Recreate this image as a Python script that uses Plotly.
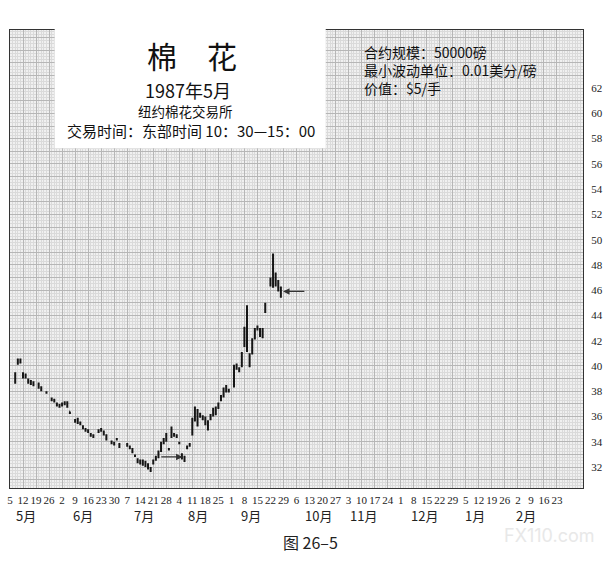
import pandas as pd
import plotly.graph_objects as go

# daily bars, cents per pound
dates = [
    "1986-05-07", "1986-05-08", "1986-05-09", "1986-05-12", "1986-05-13", "1986-05-14",
    "1986-05-15", "1986-05-16", "1986-05-20", "1986-05-21", "1986-05-23", "1986-05-27",
    "1986-05-28", "1986-05-29", "1986-05-30", "1986-06-02", "1986-06-03", "1986-06-04",
    "1986-06-05", "1986-06-09", "1986-06-10", "1986-06-11", "1986-06-12", "1986-06-13",
    "1986-06-16", "1986-06-17", "1986-06-18", "1986-06-20", "1986-06-23", "1986-06-24",
    "1986-06-25", "1986-06-27", "1986-06-30", "1986-07-01", "1986-07-02", "1986-07-07",
    "1986-07-08", "1986-07-09", "1986-07-10", "1986-07-11", "1986-07-14", "1986-07-15",
    "1986-07-16", "1986-07-17", "1986-07-18", "1986-07-21", "1986-07-22", "1986-07-23",
    "1986-07-24", "1986-07-25", "1986-07-28", "1986-07-29", "1986-07-30", "1986-07-31",
    "1986-08-01", "1986-08-04", "1986-08-05", "1986-08-06", "1986-08-07", "1986-08-08",
    "1986-08-11", "1986-08-12", "1986-08-13", "1986-08-14", "1986-08-15", "1986-08-18",
    "1986-08-19", "1986-08-20", "1986-08-21", "1986-08-22", "1986-08-25", "1986-08-26",
    "1986-08-27", "1986-08-28", "1986-08-29", "1986-09-02", "1986-09-03", "1986-09-04",
    "1986-09-05", "1986-09-08", "1986-09-09", "1986-09-10", "1986-09-11", "1986-09-12",
    "1986-09-15", "1986-09-16", "1986-09-17", "1986-09-18", "1986-09-22", "1986-09-23",
    "1986-09-24", "1986-09-25", "1986-09-26",
]
opens = [
    38.9, 40.2, 40.4, 39.4, 39.1, 38.9, 38.7, 38.5, 38.6, 38.3, 37.9, 37.4,
    37.3, 37.0, 36.8, 36.9, 37.0, 37.1, 36.4, 35.7, 35.6, 35.5, 35.2, 35.0,
    34.9, 34.6, 34.5, 34.8, 34.9, 34.8, 34.5, 34.0, 33.9, 34.2, 33.8, 33.8,
    33.6, 33.4, 32.9, 32.6, 32.5, 32.4, 32.3, 32.1, 31.9, 32.3, 32.6, 32.9,
    33.3, 33.9, 34.2, 33.4, 34.4, 34.6, 34.5, 33.9, 33.0, 32.6, 33.5, 33.7,
    34.6, 35.8, 36.4, 36.0, 36.0, 35.8, 35.4, 35.8, 36.1, 36.4, 36.8, 37.3,
    37.6, 38.1, 38.1, 38.4, 39.9, 39.8, 40.0, 41.6, 43.0, 40.8, 41.0, 42.2,
    43.0, 42.9, 42.4, 44.3, 46.4, 47.0, 46.6, 46.7, 46.2,
]
highs = [
    39.5, 40.6, 40.6, 39.5, 39.4, 39.0, 38.9, 38.8, 38.7, 38.4, 38.0, 37.5,
    37.4, 37.1, 37.0, 37.1, 37.2, 37.2, 36.4, 35.8, 35.9, 35.6, 35.3, 35.1,
    35.0, 34.7, 34.6, 35.0, 35.1, 34.9, 34.6, 34.1, 34.0, 34.3, 33.9, 33.9,
    33.7, 33.5, 33.0, 32.7, 32.6, 32.6, 32.5, 32.3, 32.0, 32.6, 32.9, 33.3,
    34.0, 34.3, 34.7, 33.5, 35.2, 34.7, 34.6, 34.0, 33.1, 32.9, 33.7, 33.9,
    35.9, 36.8, 36.6, 36.3, 36.1, 36.0, 35.7, 36.2, 36.7, 36.8, 37.1, 37.7,
    38.3, 38.5, 38.2, 40.1, 40.2, 39.9, 41.1, 43.1, 44.8, 41.0, 42.2, 43.0,
    43.2, 43.0, 43.0, 45.0, 47.0, 48.9, 47.4, 46.8, 46.3,
]
lows = [
    38.6, 40.1, 40.2, 39.0, 39.0, 38.6, 38.5, 38.4, 38.2, 38.0, 37.8, 37.2,
    37.1, 36.8, 36.7, 36.8, 36.9, 36.7, 36.2, 35.5, 35.4, 35.3, 35.0, 34.8,
    34.7, 34.4, 34.3, 34.7, 34.8, 34.5, 34.1, 33.8, 33.7, 34.1, 33.5, 33.6,
    33.4, 33.1, 32.8, 32.3, 32.2, 32.1, 32.0, 31.8, 31.6, 32.2, 32.5, 32.7,
    33.2, 33.8, 34.0, 33.3, 34.3, 34.4, 34.3, 33.8, 32.6, 32.4, 33.4, 33.6,
    34.5, 35.6, 35.2, 35.9, 35.7, 35.3, 34.9, 35.7, 36.0, 36.1, 36.6, 37.2,
    37.5, 37.9, 37.9, 38.3, 39.7, 39.5, 39.9, 41.5, 41.1, 39.9, 40.9, 42.1,
    42.8, 42.3, 42.2, 44.2, 46.3, 46.2, 46.3, 45.9, 45.4,
]
closes = [
    39.3, 40.5, 40.3, 39.1, 39.3, 38.7, 38.6, 38.7, 38.3, 38.1, 37.9, 37.3,
    37.2, 36.9, 36.9, 37.0, 37.1, 36.8, 36.3, 35.6, 35.7, 35.4, 35.1, 34.9,
    34.8, 34.5, 34.4, 34.9, 35.0, 34.6, 34.2, 33.9, 33.8, 34.2, 33.6, 33.7,
    33.5, 33.2, 32.9, 32.4, 32.3, 32.5, 32.1, 31.9, 31.8, 32.5, 32.8, 33.2,
    33.8, 34.1, 34.5, 33.4, 35.0, 34.5, 34.4, 33.9, 32.7, 32.8, 33.6, 33.8,
    35.6, 36.6, 35.5, 36.1, 35.8, 35.4, 35.1, 36.1, 36.5, 36.7, 37.0, 37.6,
    38.1, 38.4, 38.0, 39.9, 40.0, 39.6, 40.9, 42.8, 41.3, 40.2, 42.0, 42.8,
    43.1, 42.5, 42.7, 44.9, 46.8, 46.5, 47.2, 46.0, 45.6,
]

week_labels = [
    "5", "12", "19", "26", "2", "9", "16", "23", "30", "7", "14", "21", "28",
    "4", "11", "18", "25", "1", "8", "15", "22", "29", "6", "13", "20", "27",
    "3", "10", "17", "24", "1", "8", "15", "22", "29", "5", "12", "19", "26",
    "2", "9", "16", "23",
]
months = ["5月", "6月", "7月", "8月", "9月", "10月", "11月", "12月", "1月", "2月"]
month_pos = [
    "1986-05-13", "1986-06-12", "1986-07-15 12:00", "1986-08-13", "1986-09-10 12:00",
    "1986-10-16 12:00", "1986-11-10 18:00", "1986-12-12", "1987-01-08 12:00", "1987-02-05",
]
price_ticks = list(range(31, 67))
price_labels = [str(v) if v % 2 == 0 and 32 <= v <= 62 else "" for v in price_ticks]
spec_lines = ["合约规模：50000磅", "最小波动单位：0.01美分/磅", "价值：$5/手"]

mondays = pd.date_range("1986-05-05", "1987-02-23", freq="7D")

CJK = "Noto Sans CJK SC"
SERIF = "Liberation Serif"

fig = go.Figure()
fig.add_trace(
    go.Ohlc(
        x=dates, open=opens, high=highs, low=lows, close=closes,
        increasing_line_color="#151515", decreasing_line_color="#151515",
        line_width=2, tickwidth=0.25, showlegend=False, hoverinfo="skip",
    )
)

# white title panel
fig.add_shape(type="rect", xref="paper", yref="paper", x0=0.078, x1=0.551,
              y0=0.742, y1=1.02, fillcolor="white", line_width=0, layer="above")

texts = [
    ("棉　花", 0.318, 0.946, 30),
    ("1987年5月", 0.311, 0.869, 18),
    ("纽约棉花交易所", 0.306, 0.8235, 13.5),
    ("交易时间：东部时间 10：30—15：00", 0.316, 0.781, 15),
]
for t, x, y, s in texts:
    fig.add_annotation(text=t, x=x, y=y, xref="paper", yref="paper", showarrow=False,
                       xanchor="center", yanchor="middle",
                       font=dict(family=CJK, size=s, color="#111"))

fig.add_annotation(text="<br>".join(spec_lines), x=0.614, y=0.912, xref="paper",
                   yref="paper", xanchor="left", yanchor="middle", align="left",
                   showarrow=False, font=dict(family=CJK, size=14, color="#111"))

# month names under the week numbers
for m, d in zip(months, month_pos):
    fig.add_annotation(text=m, x=d, y=-0.059, xref="x", yref="paper", showarrow=False,
                       xanchor="center", yanchor="middle",
                       font=dict(family=CJK, size=13, color="#222"))

fig.add_annotation(text="图 26–5", x=0.524, y=-0.118, xref="paper", yref="paper",
                   xanchor="center", yanchor="middle",
                   showarrow=False, font=dict(family=CJK, size=16, color="#222"))
fig.add_annotation(text="FX110.com", x=0.94, y=-0.104, xref="paper", yref="paper",
                   xanchor="center", yanchor="middle",
                   showarrow=False, font=dict(family="Inter", size=18, color="#e8e8e8"))

# arrows
fig.add_annotation(x="1986-08-05 06:00", y=32.8, ax="1986-07-23 12:00", ay=32.8,
                   xref="x", yref="y", axref="x", ayref="y", showarrow=True,
                   arrowhead=2, arrowsize=1, arrowwidth=1.3, arrowcolor="#333", text="")
fig.add_annotation(x="1986-09-26 20:00", y=45.9, ax="1986-10-09 14:00", ay=45.9,
                   xref="x", yref="y", axref="x", ayref="y", showarrow=True,
                   arrowhead=2, arrowsize=1, arrowwidth=1.3, arrowcolor="#333", text="")

fig.update_xaxes(
    range=["1986-05-05", "1987-03-07"],
    rangebreaks=[dict(bounds=["sat", "mon"])],
    rangeslider_visible=False,
    tickvals=mondays, ticktext=week_labels, tickangle=0,
    tickfont=dict(family=SERIF, size=11, color="#222"),
    ticks="", ticklabelstandoff=2,
    showgrid=True, gridcolor="#b6b6b6", gridwidth=1,
    minor=dict(showgrid=True, dtick=86400000, gridcolor="#dadada", gridwidth=1),
    showline=True, linecolor="#333", linewidth=1.3, mirror=True,
    zeroline=False, automargin=False,
)
fig.update_yaxes(
    range=[30.34, 66.6], side="right",
    tickvals=price_ticks, ticktext=price_labels,
    tickfont=dict(family=SERIF, size=11, color="#222"),
    ticks="", ticklabelstandoff=5,
    showgrid=True, gridcolor="#b6b6b6", gridwidth=1,
    minor=dict(showgrid=True, dtick=0.25, gridcolor="#dadada", gridwidth=1),
    showline=True, linecolor="#333", linewidth=1.3, mirror=True,
    zeroline=False, automargin=False,
)
fig.update_layout(
    width=607, height=562,
    margin=dict(l=10, r=24, t=30, b=74),
    paper_bgcolor="white", plot_bgcolor="#f0f0f0",
    showlegend=False,
)

fig.write_html("out.html", config={"displayModeBar": False},
               post_script="document.body.style.margin='0px';")
